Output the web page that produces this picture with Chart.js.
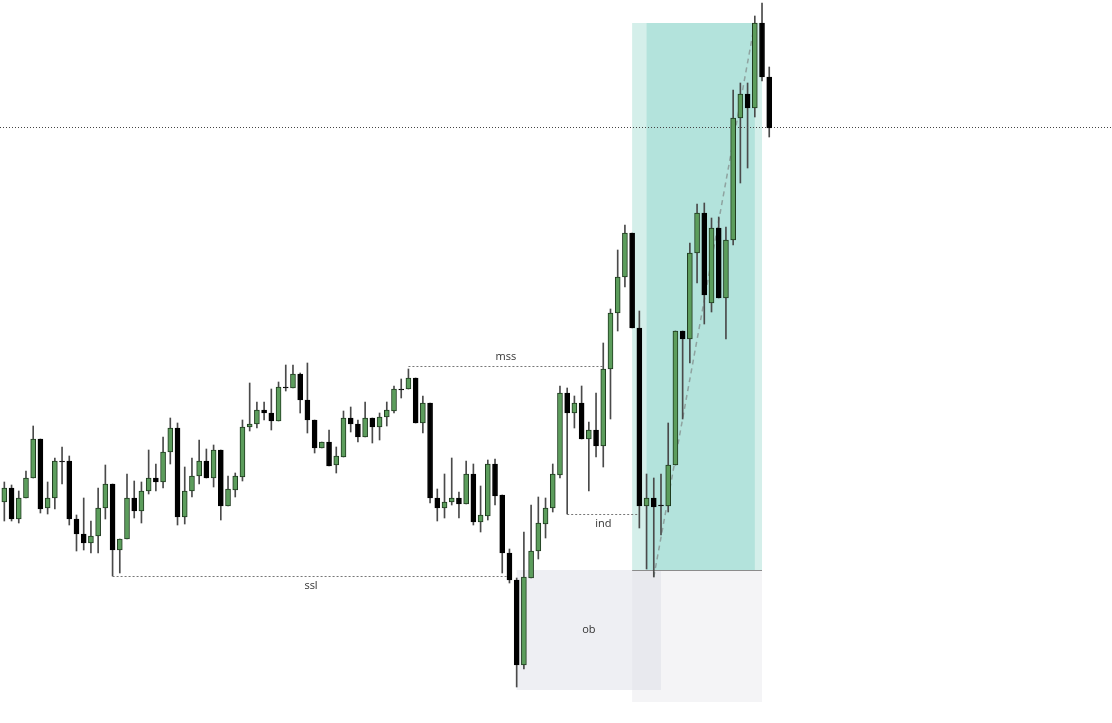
<!DOCTYPE html>
<html>
<head>
<meta charset="utf-8">
<script src="https://cdn.jsdelivr.net/npm/chart.js@4/dist/chart.umd.min.js"></script>
<style>
  html, body { margin: 0; padding: 0; background: #fff; }
  #wrap { width: 1112px; height: 723px; position: relative; }
</style>
</head>
<body>
<div id="wrap"><canvas id="myChart"></canvas></div>
<script>
'use strict';

// candle values (price units), one entry per bar
let opens = [221, 235, 204, 225, 245, 284, 215, 225, 262, 262, 204, 189, 180, 187, 215, 239, 173, 184, 225, 212,
    232, 245, 241, 271, 295, 206, 232, 247, 262, 245, 273, 217, 233, 246, 296, 299, 313, 310, 302, 336,
    335, 349, 323, 303, 275, 281, 258, 266, 305, 299, 286, 305, 296, 306, 312, 334, 334, 345, 300, 320,
    225, 215, 221, 225, 219, 249, 201, 207, 259, 228, 170, 143, 58, 145, 172, 199, 215, 248, 330, 310,
    320, 284, 293, 277, 354, 410, 446, 490, 395, 217, 225, 218, 217, 258, 392, 384, 470, 510, 420, 495,
    425, 483, 605, 629, 615, 700, 646];
let highs = [241, 238, 232, 252, 297, 284, 241, 265, 276, 267, 208, 225, 202, 235, 258, 239, 184, 249, 242, 241,
    273, 259, 286, 305, 300, 256, 265, 283, 274, 278, 273, 247, 250, 303, 340, 321, 321, 334, 341, 358,
    358, 350, 360, 303, 281, 293, 276, 312, 316, 303, 321, 305, 310, 321, 337, 344, 354, 345, 327, 320,
    234, 249, 265, 231, 262, 259, 237, 263, 264, 228, 174, 145, 191, 218, 226, 225, 259, 337, 335, 327,
    337, 301, 330, 380, 414, 473, 498, 490, 412, 249, 245, 249, 300, 392, 392, 480, 519, 520, 505, 506,
    496, 633, 640, 640, 707, 720, 656];
let lows = [202, 202, 200, 225, 245, 210, 209, 214, 239, 198, 172, 173, 170, 170, 204, 147, 150, 184, 205, 200,
    229, 232, 235, 259, 198, 199, 226, 239, 245, 236, 203, 217, 226, 242, 292, 295, 303, 293, 302, 332,
    335, 310, 290, 270, 275, 257, 250, 266, 291, 281, 286, 280, 283, 297, 310, 325, 334, 300, 290, 220,
    202, 205, 218, 205, 219, 198, 191, 203, 218, 150, 140, 36, 54, 145, 164, 185, 211, 245, 209, 295,
    284, 232, 266, 256, 304, 392, 436, 395, 195, 154, 146, 188, 211, 258, 304, 360, 440, 399, 411, 425,
    384, 478, 540, 555, 606, 642, 586];
let closes = [235, 204, 225, 245, 284, 214, 225, 262, 261, 204, 189, 180, 187, 215, 239, 173, 184, 225, 212, 232,
    245, 241, 271, 295, 206, 232, 247, 262, 245, 273, 217, 234, 247, 296, 299, 313, 310, 302, 336, 335,
    349, 323, 303, 275, 281, 257, 267, 305, 299, 286, 305, 296, 306, 313, 334, 333, 345, 300, 320, 225,
    215, 221, 225, 219, 249, 201, 208, 259, 227, 170, 143, 58, 146, 172, 200, 215, 249, 330, 310, 320,
    284, 293, 277, 354, 410, 446, 490, 395, 217, 225, 216, 217, 258, 392, 384, 470, 510, 428, 495, 425,
    483, 605, 629, 615, 700, 646, 595];

// marked levels: [label, from bar, to bar, price]
let levelLabels = ['ssl', 'mss', 'ind'];
let levelFrom = [15, 56, 78];
let levelTo = [70, 83, 88];
let levelPrice = [147, 357, 209];
let levelTextBelow = [true, false, true];

let markLine = 596;               // dotted line across the chart
let obBox = [71, 91, 33, 153];    // from bar, to bar, low, high
let targetBox = [87, 105, 153, 700];
let targetInner = [89, 104];
let stopBox = [87, 105, 21, 153];
let moveLine = [90, 146, 104, 700];

let upColor = '#5c9d5c';
let downColor = '#000000';

let bodies = [];
let wicks = [];
let bodyFill = [];
let bodyBorder = [];
for (let i = 0; i < opens.length; i++) {
    bodies.push({ x: i, y: [opens[i], closes[i]] });
    wicks.push({ x: i, y: [lows[i], highs[i]] });
    let up = closes[i] >= opens[i];
    bodyFill.push(up ? upColor : downColor);
    bodyBorder.push(up ? '#1e3a1e' : '#000000');
}

const drawings = {
    id: 'drawings',
    beforeDatasetsDraw(chart) {
        let ctx = chart.ctx;
        let xs = chart.scales.x;
        let ys = chart.scales.y;
        let area = chart.chartArea;
        function rect(x1, x2, y1, y2, color) {
            let l = xs.getPixelForValue(x1), r = xs.getPixelForValue(x2);
            let t = ys.getPixelForValue(y2), b = ys.getPixelForValue(y1);
            ctx.fillStyle = color;
            ctx.fillRect(l, t, r - l, b - t);
        }
        ctx.save();
        // boxes
        rect(stopBox[0], stopBox[1], stopBox[2], stopBox[3], '#f4f4f6');
        rect(targetBox[0], targetBox[1], targetBox[2], targetBox[3], '#d4efea');
        rect(targetInner[0], targetInner[1], targetBox[2], targetBox[3], '#b3e3dc');
        rect(obBox[0], obBox[1], obBox[2], obBox[3], 'rgba(217,220,228,0.45)');

        // entry line
        ctx.strokeStyle = '#8c8c8c';
        ctx.lineWidth = 1;
        let ey = Math.round(ys.getPixelForValue(targetBox[2])) + 0.5;
        ctx.beginPath();
        ctx.moveTo(xs.getPixelForValue(targetBox[0]), ey);
        ctx.lineTo(xs.getPixelForValue(targetBox[1]), ey);
        ctx.stroke();

        // move dashed line
        ctx.strokeStyle = '#8fa3a0';
        ctx.lineWidth = 1.5;
        ctx.setLineDash([5, 4]);
        ctx.beginPath();
        ctx.moveTo(xs.getPixelForValue(moveLine[0]), ys.getPixelForValue(moveLine[1]));
        ctx.lineTo(xs.getPixelForValue(moveLine[2]), ys.getPixelForValue(moveLine[3]));
        ctx.stroke();

        // level lines
        ctx.lineWidth = 1;
        ctx.setLineDash([2, 2]);
        ctx.strokeStyle = '#777';
        ctx.font = '11px "Open Sans", sans-serif';
        ctx.fillStyle = '#333';
        ctx.textAlign = 'center';
        ctx.textBaseline = 'middle';
        for (let i = 0; i < levelLabels.length; i++) {
            let y = Math.round(ys.getPixelForValue(levelPrice[i])) + 0.5;
            let x1 = xs.getPixelForValue(levelFrom[i]);
            let x2 = xs.getPixelForValue(levelTo[i]);
            ctx.beginPath();
            ctx.moveTo(x1, y);
            ctx.lineTo(x2, y);
            ctx.stroke();
            ctx.fillText(levelLabels[i], (x1 + x2) / 2, levelTextBelow[i] ? y + 9 : y - 10);
        }

        // full width dotted line
        ctx.setLineDash([1, 2]);
        ctx.strokeStyle = '#444';
        let my = Math.round(ys.getPixelForValue(markLine)) + 0.5;
        ctx.beginPath();
        ctx.moveTo(area.left, my);
        ctx.lineTo(area.right, my);
        ctx.stroke();

        ctx.setLineDash([]);
        ctx.fillText('ob', xs.getPixelForValue((obBox[0] + obBox[1]) / 2), ys.getPixelForValue((obBox[2] + obBox[3]) / 2));
        ctx.restore();
    }
};

var ctx = document.getElementById('myChart').getContext('2d');
var myChart = new Chart(ctx, {
    type: 'bar',
    data: {
        datasets: [{
            label: 'wick',
            data: wicks,
            backgroundColor: '#4a4a4a',
            borderWidth: 0,
            barThickness: 1,
            grouped: false,
            order: 2
        },
        {
            label: 'body',
            data: bodies,
            backgroundColor: bodyFill,
            borderColor: bodyBorder,
            borderWidth: 1,
            borderSkipped: false,
            barThickness: 5,
            grouped: false,
            order: 1
        }]
    },
    options: {
        responsive: true,
        maintainAspectRatio: false,
        animation: false,
        layout: { padding: 0 },
        plugins: {
            legend: { display: false },
            tooltip: { enabled: false }
        },
        scales: {
            x: { type: 'linear', min: -0.6, max: 153.5, offset: false, display: false },
            y: { min: 0, max: 723, display: false }
        }
    },
    plugins: [drawings]
});
</script>
</body>
</html>
